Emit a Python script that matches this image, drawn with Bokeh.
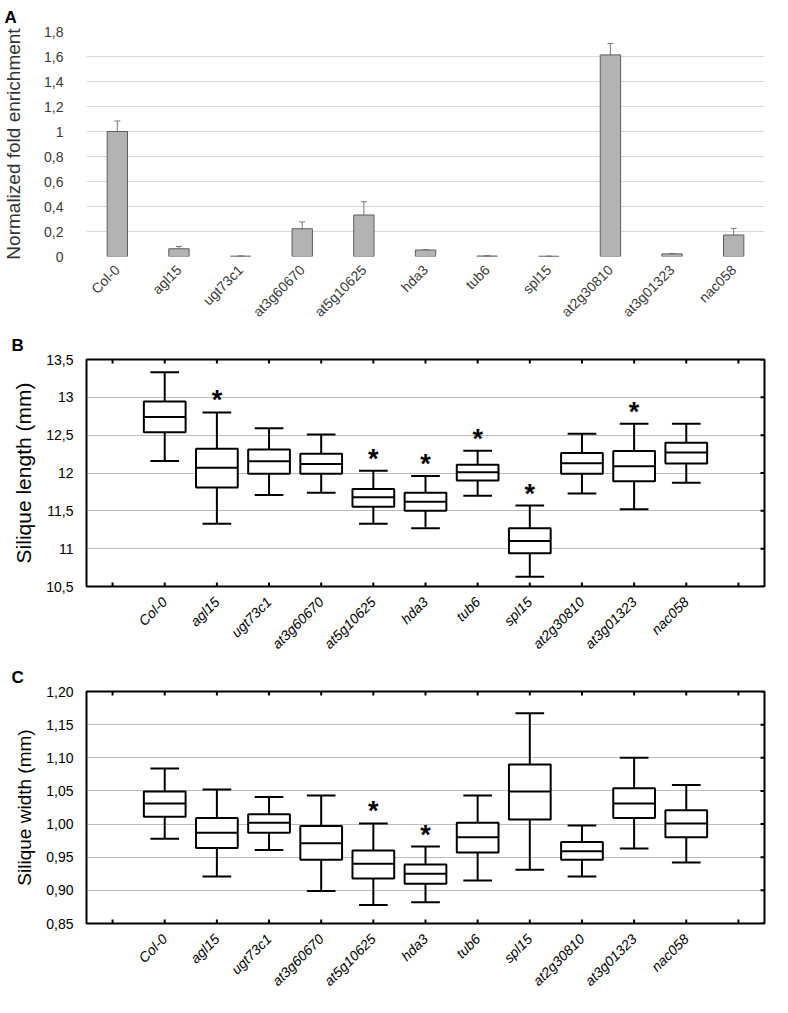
import math
from bokeh.plotting import figure
from bokeh.layouts import column
from bokeh.models import (ColumnDataSource, FactorRange, Range1d, Whisker, FixedTicker,
                          CustomJSTickFormatter, TeeHead, LabelSet)
from bokeh.core.properties import value
from bokeh.embed import file_html
from bokeh.resources import INLINE

FONT = "Liberation Sans"

# ---------------- data ----------------
genes = ["Col-0", "agl15", "ugt73c1", "at3g60670", "at5g10625", "hda3",
         "tub6", "spl15", "at2g30810", "at3g01323", "nac058"]

# Panel A: normalized fold enrichment (mean, error)
enrich = [1.00, 0.062, 0.003, 0.222, 0.332, 0.052, 0.004, 0.002, 1.613, 0.021, 0.172]
enrich_err = [0.084, 0.018, 0.001, 0.055, 0.106, 0.003, 0.002, 0.001, 0.091, 0.003, 0.053]
yticks_a = [0, 0.2, 0.4, 0.6, 0.8, 1.0, 1.2, 1.4, 1.6, 1.8]

# Panel B: silique length (mm) box plots
len_min = [12.16, 11.33, 11.71, 11.74, 11.33, 11.27, 11.70, 10.63, 11.73, 11.52, 11.87]
len_q1 = [12.54, 11.81, 11.99, 11.99, 11.555, 11.50, 11.90, 10.94, 11.99, 11.89, 12.125]
len_med = [12.74, 12.07, 12.155, 12.12, 11.68, 11.62, 12.01, 11.10, 12.13, 12.09, 12.27]
len_q3 = [12.945, 12.32, 12.31, 12.256, 11.79, 11.74, 12.11, 11.27, 12.265, 12.29, 12.40]
len_max = [13.33, 12.80, 12.59, 12.51, 12.03, 11.96, 12.295, 11.57, 12.52, 12.65, 12.65]
len_sig = [False, True, False, False, True, True, True, True, False, True, False]
yticks_b = [10.5, 11, 11.5, 12, 12.5, 13, 13.5]

# Panel C: silique width (mm) box plots
wid_min = [0.978, 0.921, 0.961, 0.899, 0.878, 0.882, 0.915, 0.931, 0.921, 0.963, 0.942]
wid_q1 = [1.011, 0.964, 0.987, 0.946, 0.918, 0.910, 0.957, 1.007, 0.946, 1.009, 0.980]
wid_med = [1.031, 0.987, 1.002, 0.971, 0.940, 0.925, 0.980, 1.049, 0.959, 1.031, 1.001]
wid_q3 = [1.049, 1.009, 1.015, 0.997, 0.960, 0.939, 1.002, 1.090, 0.973, 1.054, 1.021]
wid_max = [1.084, 1.052, 1.041, 1.043, 1.001, 0.966, 1.043, 1.167, 0.998, 1.100, 1.059]
wid_sig = [False, False, False, False, True, True, False, False, False, False, False]
yticks_c = [0.85, 0.90, 0.95, 1.00, 1.05, 1.10, 1.15, 1.20]

W = 772


def panel_label(p, text, left_border):
    p.title.text = text
    p.title.text_font = FONT
    p.title.text_font_size = "17px"
    p.title.text_font_style = "bold"
    p.title.align = "left"
    p.title.offset = -left_border + 1
    p.title.text_color = "black"


def style_xlabels(ax, size, style, color, standoff):
    ax.axis_line_color = None
    ax.major_tick_line_color = None
    ax.minor_tick_line_color = None
    ax.major_label_orientation = math.pi / 4
    ax.major_label_standoff = standoff
    ax.major_label_text_font = FONT
    ax.major_label_text_font_size = size
    ax.major_label_text_font_style = style
    ax.major_label_text_color = color


# ---------------- Panel A ----------------
def make_a(total_h, top, bottom):
    lb, rb = 83, 8
    src = ColumnDataSource(dict(
        gene=genes, val=enrich,
        lo=[v - e for v, e in zip(enrich, enrich_err)],
        hi=[v + e for v, e in zip(enrich, enrich_err)],
    ))
    p = figure(x_range=FactorRange(*genes), y_range=Range1d(yticks_a[0], yticks_a[-1]),
               width=W, height=total_h, output_backend="svg", toolbar_location=None,
               min_border_left=lb, min_border_right=rb, min_border_top=top,
               min_border_bottom=bottom,
               background_fill_color="white", border_fill_color="white")
    p.outline_line_color = None
    panel_label(p, "A", lb)
    p.vbar(x="gene", top="val", width=0.33, source=src,
           fill_color="#b3b3b3", line_color="#5e5e5e", line_width=1)
    wk = Whisker(base="gene", upper="hi", lower="lo", source=src,
                 line_color="#7a7a7a", line_width=1,
                 upper_head=TeeHead(size=6, line_color="#7a7a7a", line_width=1),
                 lower_head=TeeHead(size=6, line_color="#7a7a7a", line_width=1))
    p.add_layout(wk)
    p.xgrid.grid_line_color = None
    p.ygrid.grid_line_color = "#d9d9d9"
    p.ygrid.grid_line_width = 1
    ya = p.yaxis[0]
    ya.ticker = FixedTicker(ticks=yticks_a)
    ya.formatter = CustomJSTickFormatter(
        code="return String(Math.round(tick*10)/10).replace('.', ',');")
    ya.axis_line_color = None
    ya.major_tick_line_color = None
    ya.minor_tick_line_color = None
    ya.major_label_standoff = 17
    ya.major_label_text_font = FONT
    ya.major_label_text_font_size = "14px"
    ya.major_label_text_color = "#3a3a3a"
    ya.axis_label = "Normalized fold enrichment"
    ya.axis_label_text_font = FONT
    ya.axis_label_text_font_size = "19px"
    ya.axis_label_text_font_style = "normal"
    ya.axis_label_text_color = "#333333"
    ya.axis_label_standoff = 17
    style_xlabels(p.xaxis[0], "14px", "normal", "#3a3a3a", 5)
    return p


# ---------------- Panels B / C ----------------
def make_box(label, ytitle, title_size, yticks, fmt_code, mins, q1s, meds, q3s, maxs, sig,
             total_h, top, bottom):
    lb, rb = 76, 4
    n = len(genes)
    pos = list(range(1, n + 1))
    x0, x1 = -0.5, n + 1.5
    y0, y1 = yticks[0], yticks[-1]
    p = figure(x_range=Range1d(x0, x1), y_range=Range1d(y0, y1),
               width=W, height=total_h, output_backend="svg", toolbar_location=None,
               min_border_left=lb, min_border_right=rb, min_border_top=top,
               min_border_bottom=bottom,
               background_fill_color="white", border_fill_color="white")
    p.outline_line_color = "black"
    p.outline_line_width = 2
    panel_label(p, label, lb)

    p.xgrid.grid_line_color = None
    p.ygrid.grid_line_color = "#7a7a7a"
    p.ygrid.grid_line_dash = "1 1"
    p.ygrid.grid_line_width = 1

    box_w = 0.8
    cap_w = 0.55
    lw = 2
    # whiskers
    p.segment(x0=pos, y0=q3s, x1=pos, y1=maxs, line_color="black", line_width=lw)
    p.segment(x0=pos, y0=q1s, x1=pos, y1=mins, line_color="black", line_width=lw)
    p.segment(x0=[x - cap_w / 2 for x in pos], y0=maxs, x1=[x + cap_w / 2 for x in pos],
              y1=maxs, line_color="black", line_width=lw)
    p.segment(x0=[x - cap_w / 2 for x in pos], y0=mins, x1=[x + cap_w / 2 for x in pos],
              y1=mins, line_color="black", line_width=lw)
    # boxes
    p.vbar(x=pos, bottom=q1s, top=q3s, width=box_w, fill_color="white",
           line_color="black", line_width=lw)
    p.segment(x0=[x - box_w / 2 for x in pos], y0=meds, x1=[x + box_w / 2 for x in pos],
              y1=meds, line_color="black", line_width=lw)

    # inward tick marks on the frame (half of each dash is clipped by the frame)
    ticks_x = list(range(0, n + 2))
    p.scatter(x=ticks_x + ticks_x, y=[y0] * len(ticks_x) + [y1] * len(ticks_x),
              marker="dash", angle=math.pi / 2, size=8, line_color="black", line_width=2)
    p.scatter(x=[x1] * len(yticks), y=yticks, marker="dash", size=8,
              line_color="black", line_width=2)

    # significance stars
    star_src = ColumnDataSource(dict(
        x=[x for x, s in zip(pos, sig) if s],
        y=[m for m, s in zip(maxs, sig) if s],
        t=["*" for s in sig if s],
    ))
    p.add_layout(LabelSet(x="x", y="y", text="t", source=star_src, text_align="center",
                          text_baseline="alphabetic", y_offset=3, text_font=value(FONT),
                          text_font_size=value("27px"), text_font_style="bold",
                          text_color="black"))

    xa = p.xaxis[0]
    xa.ticker = FixedTicker(ticks=pos)
    xa.major_label_overrides = {x: g for x, g in zip(pos, genes)}
    style_xlabels(xa, "14px", "italic", "black", 7)

    ya = p.yaxis[0]
    ya.ticker = FixedTicker(ticks=yticks)
    ya.formatter = CustomJSTickFormatter(code=fmt_code)
    ya.axis_line_color = None
    ya.major_tick_line_color = None
    ya.minor_tick_line_color = None
    ya.major_label_standoff = 7
    ya.major_label_text_font = FONT
    ya.major_label_text_font_size = "14px"
    ya.major_label_text_color = "black"
    ya.axis_label = ytitle
    ya.axis_label_text_font = FONT
    ya.axis_label_text_font_size = title_size
    ya.axis_label_text_font_style = "normal"
    ya.axis_label_text_color = "black"
    ya.axis_label_standoff = 8
    return p


pa = make_a(total_h=328, top=24, bottom=66)
pb = make_box("B", "Silique length (mm)", "21px", yticks_b,
              "return String(tick).replace('.', ',');",
              len_min, len_q1, len_med, len_q3, len_max, len_sig,
              total_h=332, top=23, bottom=68)
pc = make_box("C", "Silique width (mm)", "19px", yticks_c,
              "return tick.toFixed(2).replace('.', ',');",
              wid_min, wid_q1, wid_med, wid_q3, wid_max, wid_sig,
              total_h=337, top=27, bottom=68)

layout = column(pa, pb, pc, spacing=0)
open("out.html", "w").write(file_html(layout, INLINE))
